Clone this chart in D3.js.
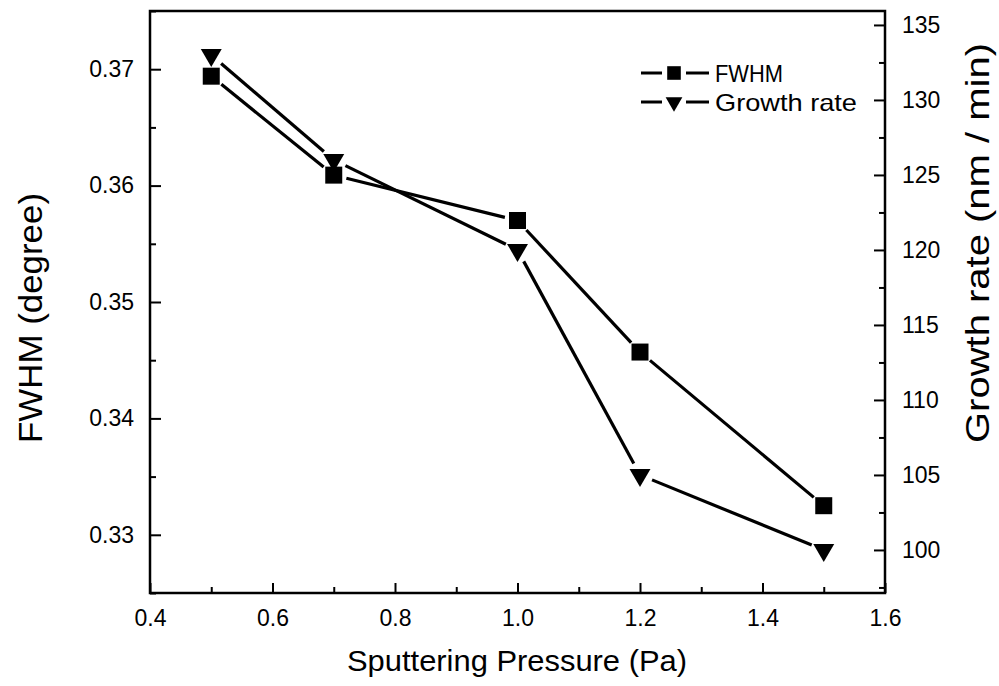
<!DOCTYPE html>
<html><head><meta charset="utf-8">
<script src="https://cdn.jsdelivr.net/npm/d3@7"></script>
<style>body{margin:0;background:#fff}svg{display:block}text{font-family:"Liberation Sans",Arial,sans-serif;fill:#000}</style>
</head><body><svg id="c" width="999" height="686"></svg>
<script>
const pressure = [0.5, 0.7, 1.0, 1.2, 1.5];
const fwhm = [0.3694, 0.3609, 0.3570, 0.3457, 0.3325];
const growth = [133, 126, 120, 105, 100];
const xTicks = [0.4, 0.6, 0.8, 1.0, 1.2, 1.4, 1.6];
const yLeftTicks = [0.33, 0.34, 0.35, 0.36, 0.37];
const yRightTicks = [100, 105, 110, 115, 120, 125, 130, 135];
const seriesNames = ["FWHM", "Growth rate"];

const svg = d3.select("#c");
const L = 150, R = 885, T = 11, B = 593;
const x = d3.scaleLinear().domain([0.4, 1.6]).range([L, R]);
const yL = d3.scaleLinear().domain([0.325, 0.375]).range([B, T]);
const yR = d3.scaleLinear().domain([97.13, 135.93]).range([B, T]);

svg.append("rect").attr("x", L).attr("y", T).attr("width", R - L).attr("height", B - T)
  .attr("fill", "none").attr("stroke", "#000").attr("stroke-width", 2.5);

function minor(arr, step) { const out = []; for (let i = 0; i < arr.length - 1; i++) out.push(+(arr[i] + step).toFixed(6)); return out; }

svg.append("g").attr("transform", `translate(0,${B})`)
  .call(d3.axisBottom(x).tickValues(xTicks).tickSizeInner(-10).tickSizeOuter(0).tickPadding(17).tickFormat(d3.format(".1f")));
svg.append("g").attr("transform", `translate(0,${B})`)
  .call(d3.axisBottom(x).tickValues(minor(xTicks, 0.1)).tickSizeInner(-6).tickSizeOuter(0).tickFormat(""));
svg.append("g").attr("transform", `translate(${L},0)`)
  .call(d3.axisLeft(yL).tickValues(yLeftTicks).tickSizeInner(-11).tickSizeOuter(0).tickPadding(16).tickFormat(d3.format(".2f")));
svg.append("g").attr("transform", `translate(${L},0)`)
  .call(d3.axisLeft(yL).tickValues([0.325, ...minor(yLeftTicks, 0.005), 0.375]).tickSizeInner(-6).tickSizeOuter(0).tickFormat(""));
svg.append("g").attr("transform", `translate(${R},0)`)
  .call(d3.axisRight(yR).tickValues(yRightTicks).tickSizeInner(-11).tickSizeOuter(0).tickPadding(17));
svg.append("g").attr("transform", `translate(${R},0)`)
  .call(d3.axisRight(yR).tickValues([97.5, ...minor(yRightTicks, 2.5)]).tickSizeInner(-6).tickSizeOuter(0).tickFormat(""));

svg.selectAll(".domain").remove();
svg.selectAll(".tick line").attr("stroke", "#000").attr("stroke-width", 2);
svg.selectAll(".tick text").attr("font-size", 23).attr("font-family", "Liberation Sans, Arial, sans-serif").attr("fill", "#000");

svg.append("text").attr("x", 517).attr("y", 671).attr("text-anchor", "middle")
  .attr("font-size", 30).attr("textLength", 340).attr("lengthAdjust", "spacingAndGlyphs").text("Sputtering Pressure (Pa)");
svg.append("text").attr("transform", `translate(42,318) rotate(-90)`).attr("text-anchor", "middle")
  .attr("font-size", 33).attr("textLength", 250).attr("lengthAdjust", "spacingAndGlyphs").text("FWHM (degree)");
svg.append("text").attr("transform", `translate(989,243) rotate(-90)`).attr("text-anchor", "middle")
  .attr("font-size", 33).attr("textLength", 400).attr("lengthAdjust", "spacingAndGlyphs").text("Growth rate (nm / min)");

function gappedSegments(pts, gap) {
  const segs = [];
  for (let i = 0; i < pts.length - 1; i++) {
    const [x1, y1] = pts[i], [x2, y2] = pts[i + 1];
    const dx = x2 - x1, dy = y2 - y1, len = Math.hypot(dx, dy);
    const ux = dx / len, uy = dy / len;
    segs.push([x1 + ux * gap, y1 + uy * gap, x2 - ux * gap, y2 - uy * gap]);
  }
  return segs;
}
const ptsF = pressure.map((p, i) => [x(p), yL(fwhm[i])]);
const ptsG = pressure.map((p, i) => [x(p), yR(growth[i])]);
[ptsF, ptsG].forEach(pts => {
  svg.append("g").selectAll("line").data(gappedSegments(pts, 13)).join("line")
    .attr("x1", d => d[0]).attr("y1", d => d[1]).attr("x2", d => d[2]).attr("y2", d => d[3])
    .attr("stroke", "#000").attr("stroke-width", 3.2);
});
const sq = d3.symbol().type(d3.symbolSquare).size(17 * 17);
const tri = d3.symbol().type(d3.symbolTriangle).size(190);
svg.append("g").selectAll("path").data(ptsF).join("path")
  .attr("transform", d => `translate(${d[0]},${d[1]})`).attr("d", sq).attr("fill", "#000");
svg.append("g").selectAll("path").data(ptsG).join("path")
  .attr("transform", d => `translate(${d[0]},${d[1]}) rotate(180)`).attr("d", tri).attr("fill", "#000");

const lg = svg.append("g");
const lgLen = [68, 142];
[[73, sq, 0], [102, tri, 180]].forEach(([ly, sym, rot], i) => {
  lg.append("line").attr("x1", 641).attr("x2", 662).attr("y1", ly).attr("y2", ly).attr("stroke", "#000").attr("stroke-width", 3);
  lg.append("line").attr("x1", 686).attr("x2", 709).attr("y1", ly).attr("y2", ly).attr("stroke", "#000").attr("stroke-width", 3);
  lg.append("path").attr("transform", `translate(674,${ly}) rotate(${rot}) scale(0.8)`).attr("d", sym).attr("fill", "#000");
  lg.append("text").attr("x", 715).attr("y", ly + 9).attr("font-size", 24)
    .attr("textLength", lgLen[i]).attr("lengthAdjust", "spacingAndGlyphs").text(seriesNames[i]);
});
</script></body></html>
